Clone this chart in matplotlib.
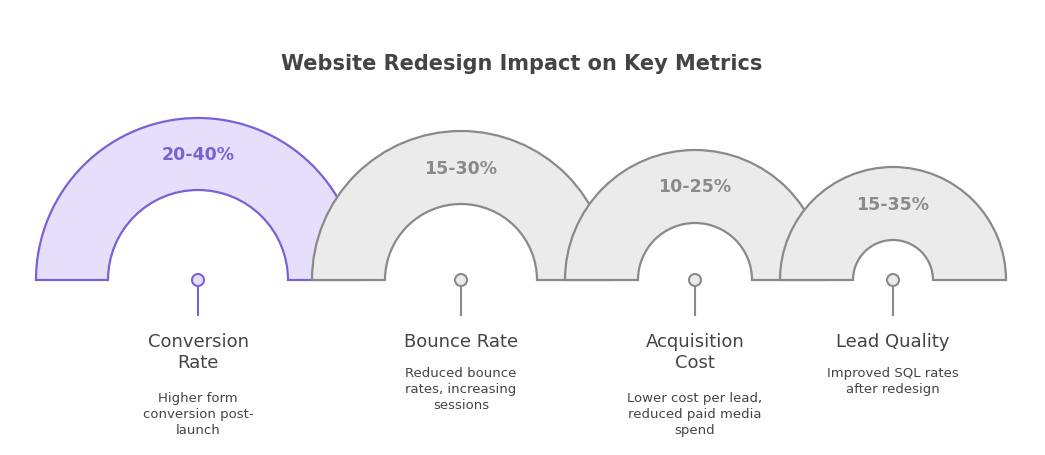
import matplotlib
matplotlib.use("Agg")
import matplotlib.pyplot as plt
from matplotlib.patches import Wedge, Circle

categories = ["Conversion\nRate", "Bounce Rate", "Acquisition\nCost", "Lead Quality"]
ranges = ["20-40%", "15-30%", "10-25%", "15-35%"]
descriptions = ["Higher form\nconversion post-\nlaunch",
                "Reduced bounce\nrates, increasing\nsessions",
                "Lower cost per lead,\nreduced paid media\nspend",
                "Improved SQL rates\nafter redesign"]

centers = [198, 461, 695, 893]
outer = [162, 149, 130, 113]
inner = [90, 76, 57, 40]
fills = ["#E5DFFB", "#EBEBEB", "#EBEBEB", "#EBEBEB"]
edges = ["#7B61D6", "#8A8A8A", "#8A8A8A", "#8A8A8A"]
txtc = ["#7B61D6", "#8A8A8A", "#8A8A8A", "#8A8A8A"]

H = 456
fig = plt.figure(figsize=(10.45, 4.56), dpi=100)
ax = fig.add_axes([0, 0, 1, 1])
ax.set_xlim(0, 1045); ax.set_ylim(0, H); ax.set_aspect("equal"); ax.axis("off")

base = H - 281
for i, (cx, ro, ri) in enumerate(zip(centers, outer, inner)):
    ax.add_patch(Wedge((cx, base), ro, 0, 180, width=ro - ri, facecolor=fills[i],
                       edgecolor=edges[i], lw=1.6, zorder=2 + i))
    ax.text(cx, base + (ro + ri) / 2, ranges[i], ha="center", va="center",
            fontsize=12.5, fontweight="bold", color=txtc[i], zorder=10)
    ax.plot([cx, cx], [base - 6, H - 316], color=edges[i], lw=1.5, zorder=10)
    ax.add_patch(Circle((cx, base), 6, facecolor=fills[i], edgecolor=edges[i], lw=1.5, zorder=11))
    n = categories[i].count("\n") + 1
    ax.text(cx, H - 333, categories[i], ha="center", va="top", fontsize=13,
            color="#444444", linespacing=1.25)
    ax.text(cx, H - (333 + 25 * n + 9), descriptions[i], ha="center", va="top",
            fontsize=9.5, color="#444444", linespacing=1.3)

ax.text(522, H - 64, "Website Redesign Impact on Key Metrics", ha="center", va="center",
        fontsize=15, fontweight="bold", color="#444444")
fig.savefig("out.png", dpi=100, facecolor="white")
